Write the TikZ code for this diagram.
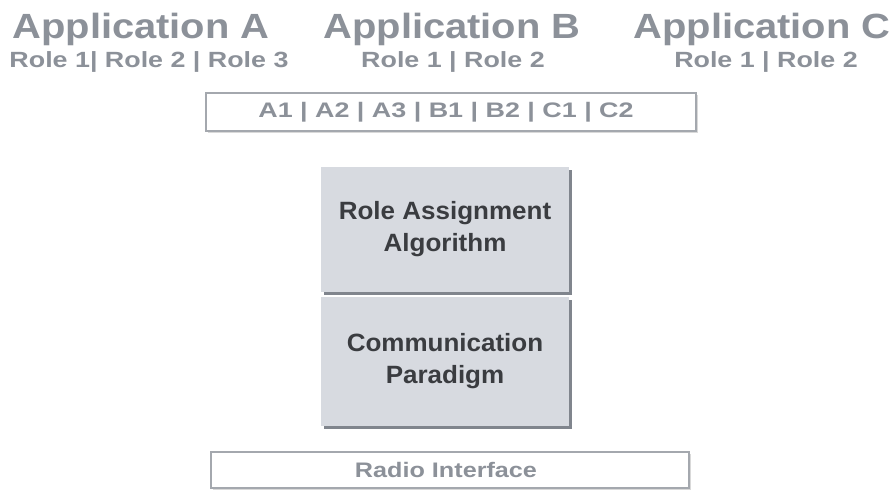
\documentclass[tikz,border=0pt]{standalone}
\usepackage{fontspec}
\setmainfont{Liberation Sans}
\usetikzlibrary{shadows}
\definecolor{titlegrey}{HTML}{8C9199}
\definecolor{boxtext}{HTML}{3A3C40}
\definecolor{boxfill}{HTML}{D7DAE0}
\definecolor{boxshadow}{HTML}{80858D}
\definecolor{lineborder}{HTML}{A4A8AE}
\tikzset{
  apptitle/.style={text=titlegrey, font=\bfseries\fontsize{35}{35}\selectfont, anchor=base, xscale=1.14, transform shape, inner sep=0pt},
  roletext/.style={text=titlegrey, font=\bfseries\fontsize{22}{22}\selectfont, anchor=base, xscale=1.22, transform shape, inner sep=0pt},
  barbox/.style={draw=lineborder, line width=2.5pt, fill=white, inner sep=0pt,
    drop shadow={shadow xshift=1.5pt, shadow yshift=-1.5pt, fill=black, opacity=0.15}},
  bartextbase/.style={text=titlegrey, font=\bfseries\fontsize{21}{21}\selectfont, transform shape, inner sep=0pt},
  bartext/.style={bartextbase, xscale=1.28},
  radiotextstyle/.style={bartextbase, xscale=1.2},
  stackbox/.style={fill=boxfill, inner sep=0pt, minimum width=248pt,
    drop shadow={shadow xshift=3pt, shadow yshift=-3pt, fill=boxshadow, opacity=1}},
  stacktext/.style={text=boxtext, font=\bfseries\fontsize{25}{32}\selectfont, align=center, xscale=1.04, transform shape, inner sep=0pt}
}
\begin{document}
\begin{tikzpicture}[x=1pt,y=-1pt]
\useasboundingbox (0,0) rectangle (896,491);
\fill[white] (0,0) rectangle (896,491);
% titles
\node[apptitle] (appA) at (141,38) {Application A};
\node[apptitle] (appB) at (452,38) {Application B};
\node[apptitle] (appC) at (762,38) {Application C};
\node[roletext] (roleA) at (149,67) {Role 1| Role 2 | Role 3};
\node[roletext] (roleB) at (453,67) {Role 1 | Role 2};
\node[roletext] (roleC) at (766,67) {Role 1 | Role 2};
% top bar
\node[barbox, minimum width=490pt, minimum height=38pt] (roles) at (451,112) {};
\node[bartext] (rolestext) at (446,112) {A1 | A2 | A3 | B1 | B2 | C1 | C2};
% stacked boxes
\node[stackbox, minimum height=125pt] (raa) at (445,229) {};
\node[stacktext] (raatext) at (raa.center) {Role Assignment\\Algorithm};
\node[stackbox, minimum height=129pt] (cp) at (445,361) {};
\node[stacktext] (cptext) at (cp.center) {Communication\\Paradigm};
% radio
\node[barbox, minimum width=478pt, minimum height=36pt] (radio) at (450,470) {};
\node[radiotextstyle] (radiotext) at (446,470) {Radio Interface};
\end{tikzpicture}
\end{document}
